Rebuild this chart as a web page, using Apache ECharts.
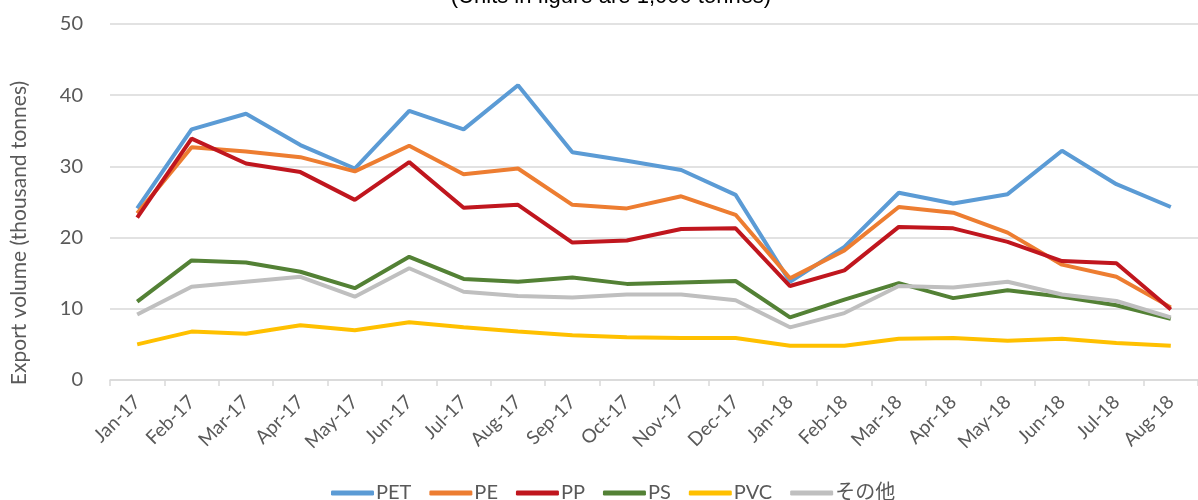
<!DOCTYPE html>
<html>
<head>
<meta charset="utf-8">
<script src="https://cdn.jsdelivr.net/npm/echarts@6/dist/echarts.min.js"></script>
<style>
  html, body { margin: 0; padding: 0; background: #fff; }
  #main { width: 1198px; height: 500px; }
</style>
</head>
<body>
<div id="main"></div>
<script>
// 月
const months = ['Jan-17', 'Feb-17', 'Mar-17', 'Apr-17', 'May-17', 'Jun-17', 'Jul-17', 'Aug-17', 'Sep-17', 'Oct-17',
  'Nov-17', 'Dec-17', 'Jan-18', 'Feb-18', 'Mar-18', 'Apr-18', 'May-18', 'Jun-18', 'Jul-18', 'Aug-18'];

// 各樹脂の輸出量（千トン）
const pet = [24.1, 35.2, 37.4, 33.0, 29.7, 37.8, 35.2, 41.4, 32.0, 30.8, 29.5, 26.0, 13.8, 18.7, 26.3, 24.8, 26.1, 32.2, 27.5, 24.3];
const pe = [23.4, 32.7, 32.1, 31.3, 29.3, 32.9, 28.9, 29.7, 24.6, 24.1, 25.8, 23.2, 14.3, 18.2, 24.3, 23.5, 20.7, 16.2, 14.5, 10.2];
const pp = [22.8, 33.9, 30.4, 29.2, 25.3, 30.6, 24.2, 24.6, 19.3, 19.6, 21.2, 21.3, 13.2, 15.4, 21.5, 21.3, 19.4, 16.7, 16.4, 9.9];
const ps = [11.0, 16.8, 16.5, 15.2, 12.9, 17.3, 14.2, 13.8, 14.4, 13.5, 13.7, 13.9, 8.8, 11.3, 13.6, 11.5, 12.6, 11.7, 10.5, 8.6];
const pvc = [5.0, 6.8, 6.5, 7.7, 7.0, 8.1, 7.4, 6.8, 6.3, 6.0, 5.9, 5.9, 4.8, 4.8, 5.8, 5.9, 5.5, 5.8, 5.2, 4.8];
const other = [9.2, 13.1, 13.8, 14.5, 11.7, 15.7, 12.4, 11.8, 11.6, 12.0, 12.0, 11.2, 7.4, 9.4, 13.2, 13.0, 13.8, 12.0, 11.1, 8.8];

const yTicks = [0, 10, 20, 30, 40, 50];

const font = "Lato, 'Noto Sans CJK JP', sans-serif";
const gray = '#595959';

function line(name, data, color) {
  return {
    name: name,
    type: 'line',
    data: data,
    symbol: 'none',
    lineStyle: { width: 4, color: color },
    itemStyle: { color: color }
  };
}

let myChart = echarts.init(document.getElementById('main'));
let option = {
  animation: false,
  textStyle: { fontFamily: font },
  title: {
    text: '(Units in figure are 1,000 tonnes)',
    left: 606,
    textAlign: 'center',
    top: -19,
    textStyle: { fontFamily: "'Liberation Sans', Arial, sans-serif", fontSize: 22, fontWeight: 'normal', color: '#000' }
  },
  legend: {
    left: 326,
    top: 478,
    icon: 'roundRect',
    itemWidth: 43,
    itemHeight: 5,
    itemGap: 18,
    textStyle: { fontFamily: font, fontSize: 20, color: gray, padding: [0, 0, 0, -3] },
    data: ['PET', 'PE', 'PP', 'PS', 'PVC', 'その他']
  },
  grid: {
    left: 110,
    top: 24,
    width: 1100,
    height: 356
  },
  xAxis: {
    type: 'category',
    data: months,
    boundaryGap: true,
    axisLine: { lineStyle: { color: '#d9d9d9', width: 1.5 } },
    axisTick: { show: true, length: 6, lineStyle: { color: '#d9d9d9', width: 1.5 } },
    axisLabel: { interval: 0, rotate: 45, fontSize: 19, color: gray, margin: 19 }
  },
  yAxis: {
    type: 'value',
    min: yTicks[0],
    max: yTicks[yTicks.length - 1],
    interval: 10,
    axisLine: { show: false },
    axisTick: { show: false },
    axisLabel: { fontSize: 20, color: gray, margin: 27 },
    splitLine: { lineStyle: { color: '#d9d9d9', width: 1.5 } }
  },
  graphic: [{
    type: 'text',
    x: 19,
    y: 233,
    rotation: Math.PI / 2,
    style: {
      text: 'Export volume (thousand tonnes)',
      font: '21px Lato',
      fill: gray,
      textAlign: 'center',
      textVerticalAlign: 'middle'
    }
  }],
  series: [
    line('PET', pet, '#5b9bd5'),
    line('PE', pe, '#ed7d31'),
    line('PP', pp, '#c0161e'),
    line('PS', ps, '#538135'),
    line('PVC', pvc, '#ffc000'),
    line('その他', other, '#bfbfbf')
  ]
};
myChart.setOption(option);
</script>
</body>
</html>
